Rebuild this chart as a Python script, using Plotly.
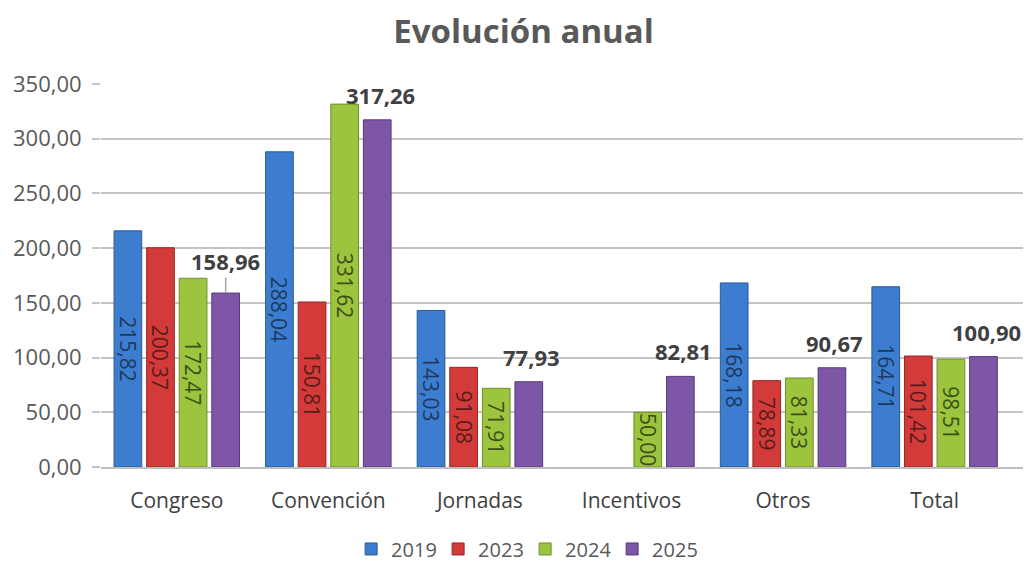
import plotly.graph_objects as go

categories = ["Congreso", "Convención", "Jornadas", "Incentivos", "Otros", "Total"]
years = ["2019", "2023", "2024", "2025"]
v2019 = [215.82, 288.04, 143.03, None, 168.18, 164.71]
v2023 = [200.37, 150.81, 91.08, None, 78.89, 101.42]
v2024 = [172.47, 331.62, 71.91, 50.00, 81.33, 98.51]
v2025 = [158.96, 317.26, 77.93, 82.81, 90.67, 100.90]
yticks = [0, 50, 100, 150, 200, 250, 300, 350]

series = [v2019, v2023, v2024, v2025]
colors = ["#3C7DCF", "#D23B39", "#9CC43F", "#7E56A8"]
edge = ["#2A5A96", "#962826", "#6E8F2A", "#573B78"]
textcol = ["#1F3A5E", "#5A1B1B", "#3C5016", "#3A2A50"]

FONT = "Open Sans"
bargap = 0.14
bargroupgap = 0.15

fig = go.Figure()
for i, (yr, vals) in enumerate(zip(years, series)):
    inside = i < 3
    fig.add_trace(go.Bar(
        name=yr, x=categories, y=vals,
        marker=dict(color=colors[i], line=dict(color=edge[i], width=1)),
        texttemplate="%{y:.2f}" if inside else None,
        textposition="inside" if inside else "none",
        insidetextanchor="middle",
        textangle=90,
        constraintext="none",
        textfont=dict(family=FONT, size=21, color=textcol[i]),
        hoverinfo="skip",
    ))

# outside bold labels for 2025
slot = (1 - bargap) / len(years)
off = (3 - (len(years) - 1) / 2) * slot
for j, v in enumerate(v2025):
    lab = f"{v:.2f}".replace(".", ",")
    if j == 0:
        fig.add_annotation(x=j + off, y=v, text=lab, showarrow=True, ax=0, ay=-32,
                           arrowhead=0, arrowwidth=1.5, arrowcolor="#A6A6A6", standoff=1,
                           font=dict(family=FONT, size=22, color="#404040", weight="bold"))
    else:
        fig.add_annotation(x=j + off, y=v, text=lab, showarrow=False,
                           yanchor="bottom", yshift=8, xshift=3,
                           font=dict(family=FONT, size=22, color="#404040", weight="bold"))

fig.update_layout(
    width=1025, height=554,
    margin=dict(l=93, r=10, t=76, b=95, autoexpand=False),
    paper_bgcolor="white", plot_bgcolor="white",
    barmode="group", bargap=bargap, bargroupgap=bargroupgap,
    separators=",.",
    title=dict(text="<b>Evolución anual</b>", x=0.503, xanchor="center", y=0.9585, yanchor="middle",
               font=dict(family=FONT, size=33, color="#595959")),
    legend=dict(orientation="h", x=0.46, xanchor="center", y=-0.214, yanchor="middle",
                font=dict(family=FONT, size=20, color="#595959"), itemwidth=30,
                entrywidth=42, entrywidthmode="pixels",
                traceorder="normal"),
    showlegend=True,
)
fig.update_xaxes(showline=True, linecolor="#BFBFBF", linewidth=2, ticks="",
                 tickfont=dict(family=FONT, size=21, color="#404040"),
                 ticklabelstandoff=14)
fig.update_yaxes(range=[0, 350], tickvals=yticks, tickformat=",.2f",
                 showgrid=True, gridcolor="#C4C4C4", gridwidth=2,
                 ticks="outside", ticklen=8, tickcolor="#C4C4C4", tickwidth=2,
                 ticklabelstandoff=6, zeroline=False, showline=False,
                 tickfont=dict(family=FONT, size=22, color="#595959"))

fig.write_html("out.html")
